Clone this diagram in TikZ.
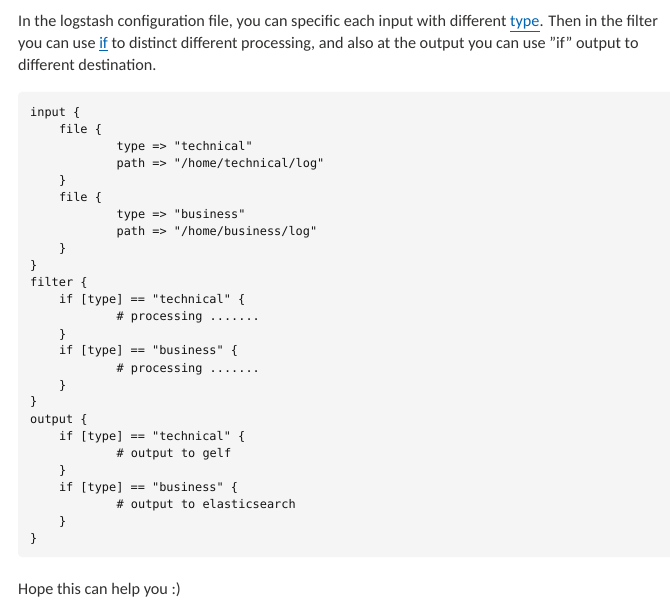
\documentclass[tikz,border=0pt]{standalone}
\usepackage{fontspec}
\setmainfont{Carlito}
\setmonofont{DejaVu Sans Mono}
\usetikzlibrary{positioning}
\definecolor{bodytext}{HTML}{323130}
\definecolor{codetext}{HTML}{141414}
\definecolor{codebg}{HTML}{F5F5F5}
\definecolor{linkblue}{HTML}{0065B3}
\tikzset{
	para/.style={anchor=base west, inner sep=0pt, text=bodytext, font=\fontsize{16.2}{22}\selectfont},
	code/.style={anchor=base west, inner sep=0pt, text=codetext, font=\ttfamily\fontsize{11.9}{17}\selectfont}
}
\newcommand{\lnk}[1]{\textcolor{linkblue}{\underline{#1}}}

\begin{document}
\begin{tikzpicture}[x=1pt, y=-1pt]
	\useasboundingbox[fill=white] (0,0) rectangle (670,604);
	% text above the code
	\node[para] (p1) at (18,27) {In the logstash configuration file, you can specific each input with different \lnk{type}. Then in the filter};
	\node[para] (p2) at (18,49) {you can use \lnk{if} to distinct different processing, and also at the output you can use "if" output to};
	\node[para] (p3) at (18,71) {different destination.};
	
	% code block
	\fill[codebg, rounded corners=4pt] (18,92) rectangle (690,557);
	\node[code] (c1)  at (30,117)    {input \{};
	\node[code] (c2)  at (58.8,134)  {file \{};
	\node[code] (c3)  at (116.4,151) {type => "technical"};
	\node[code] (c4)  at (116.4,168) {path => "/home/technical/log"};
	\node[code] (c5)  at (58.8,185)  {\}};
	\node[code] (c6)  at (58.8,202)  {file \{};
	\node[code] (c7)  at (116.4,219) {type => "business"};
	\node[code] (c8)  at (116.4,236) {path => "/home/business/log"};
	\node[code] (c9)  at (58.8,253)  {\}};
	\node[code] (c10) at (30,270)    {\}};
	\node[code] (c11) at (30,287)    {filter \{};
	\node[code] (c12) at (58.8,304)  {if [type] == "technical" \{};
	\node[code] (c13) at (116.4,321) {\# processing .......};
	\node[code] (c14) at (58.8,338)  {\}};
	\node[code] (c15) at (58.8,355)  {if [type] == "business" \{};
	\node[code] (c16) at (116.4,372) {\# processing .......};
	\node[code] (c17) at (58.8,389)  {\}};
	\node[code] (c18) at (30,406)    {\}};
	\node[code] (c19) at (30,423)    {output \{};
	\node[code] (c20) at (58.8,440)  {if [type] == "technical" \{};
	\node[code] (c21) at (116.4,457) {\# output to gelf};
	\node[code] (c22) at (58.8,474)  {\}};
	\node[code] (c23) at (58.8,491)  {if [type] == "business" \{};
	\node[code] (c24) at (116.4,508) {\# output to elasticsearch};
	\node[code] (c25) at (58.8,525)  {\}};
	\node[code] (c26) at (30,542)    {\}};
	
	% text below the code
	\node[para] (hope) at (18,594) {Hope this can help you :)};
\end{tikzpicture}
\end{document}
